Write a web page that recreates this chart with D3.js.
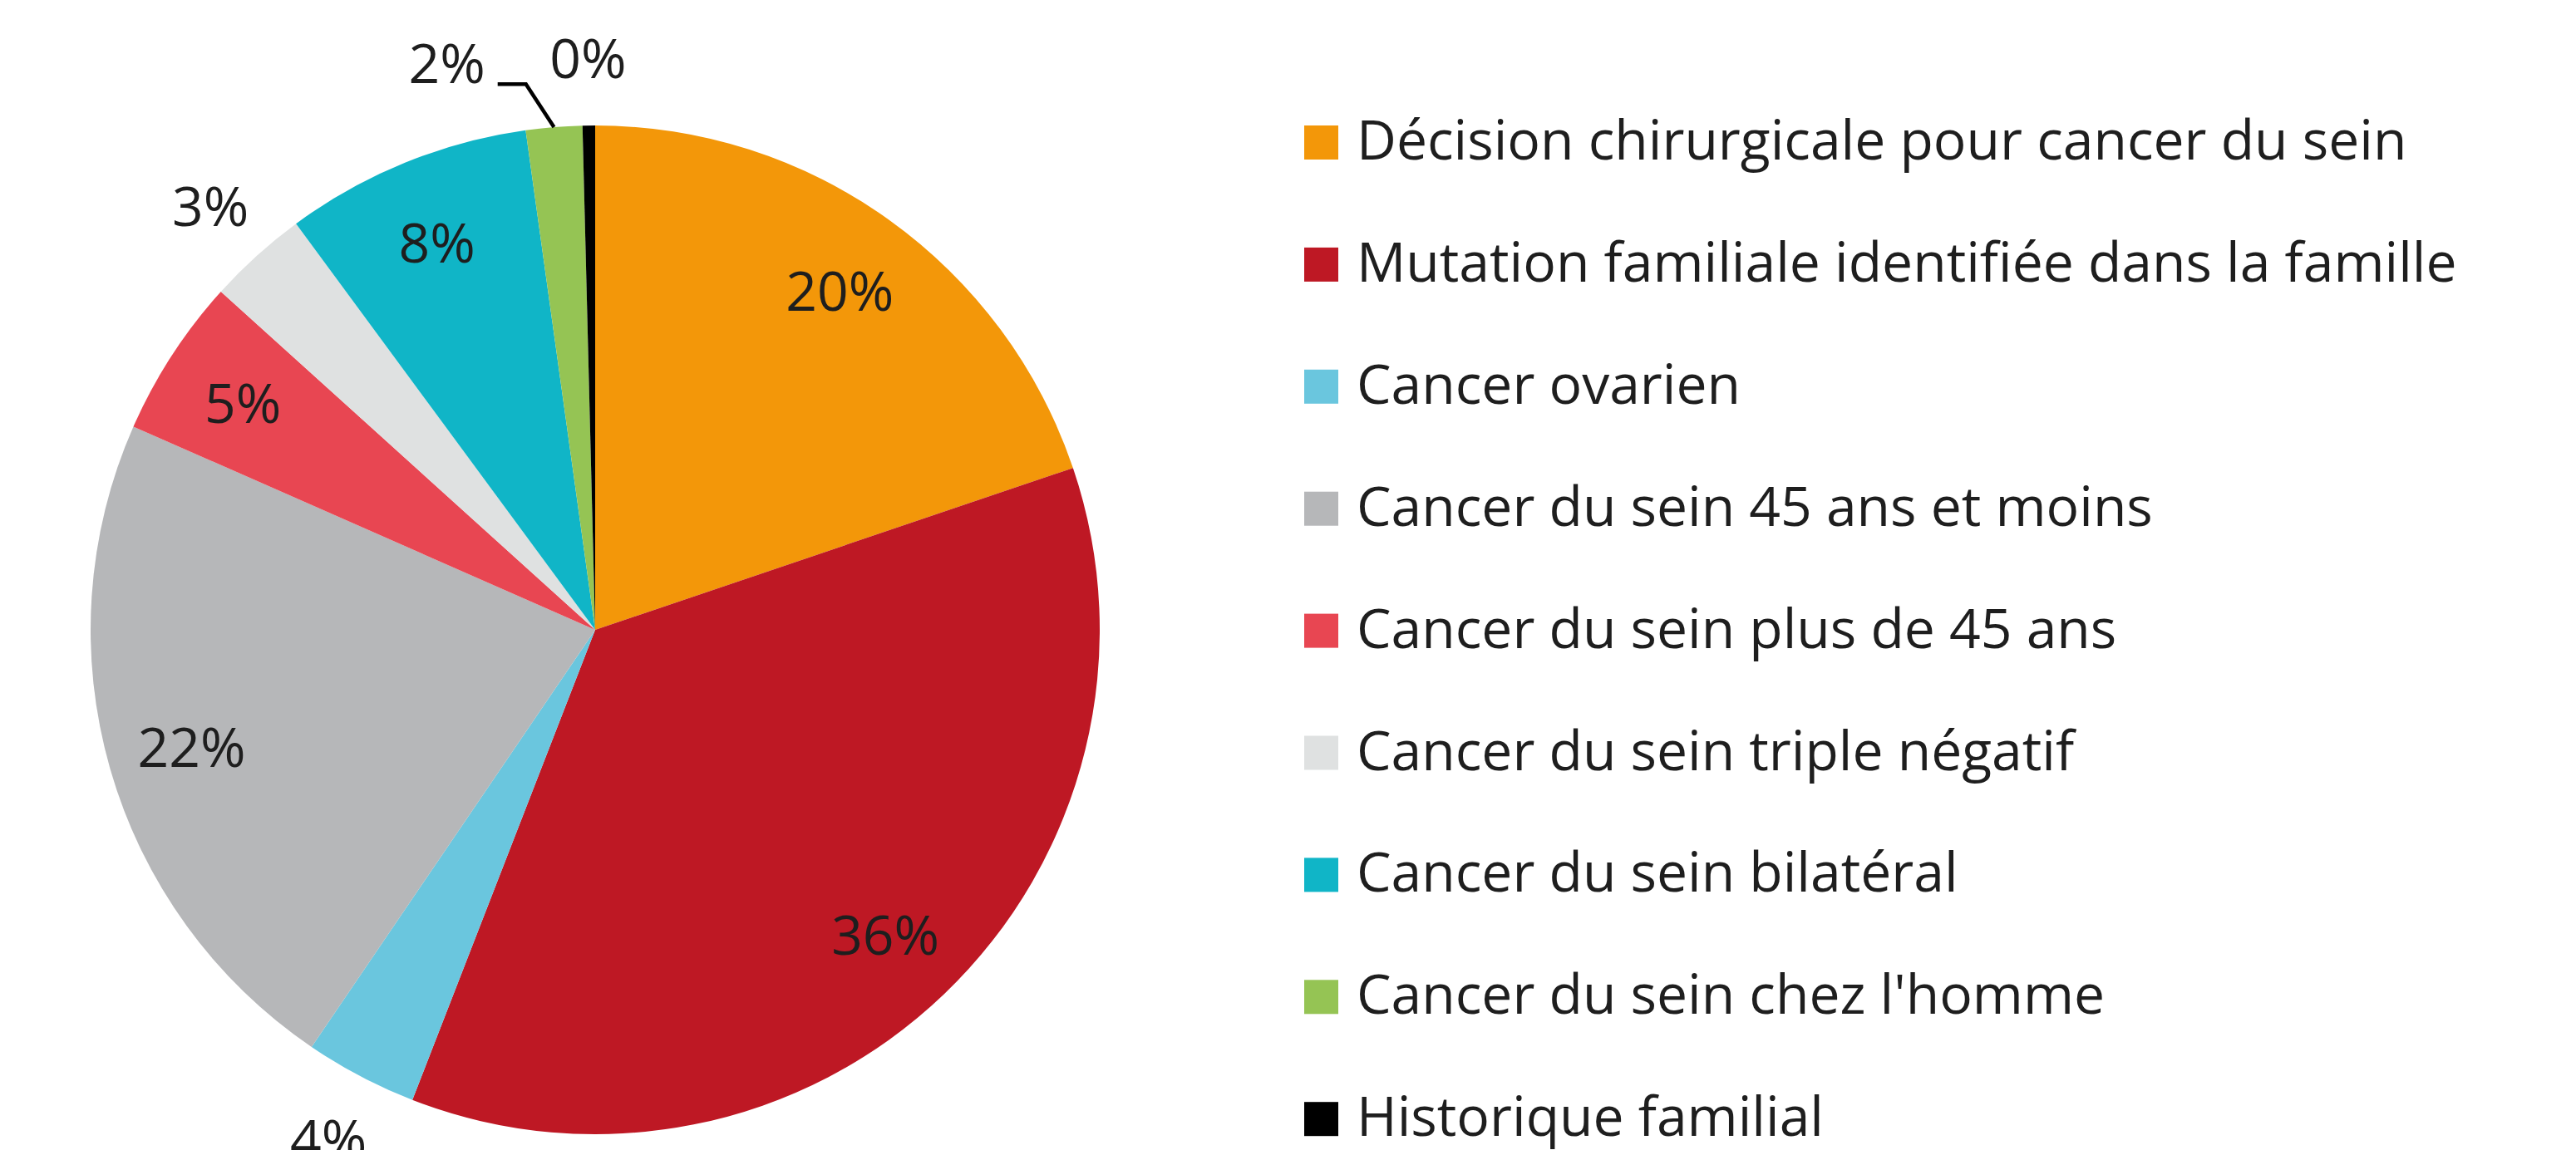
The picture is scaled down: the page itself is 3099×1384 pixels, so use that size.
<!DOCTYPE html>
<html>
<head>
<meta charset="utf-8">
<script src="https://cdn.jsdelivr.net/npm/d3@7"></script>
<style>
  html, body { margin: 0; padding: 0; background: #fff; }
  svg { display: block; }
  .slice-label, .legend-label { font-family: "Open Sans", "Noto Sans", sans-serif; fill: #1e1e1e; }
</style>
</head>
<body>
<svg id="chart"></svg>
<script>
// data (share of each reason, percent)
const categories = [
  "Décision chirurgicale pour cancer du sein",
  "Mutation familiale identifiée dans la famille",
  "Cancer ovarien",
  "Cancer du sein 45 ans et moins",
  "Cancer du sein plus de 45 ans",
  "Cancer du sein triple négatif",
  "Cancer du sein bilatéral",
  "Cancer du sein chez l'homme",
  "Historique familial"
];
const values = [19.8, 36.1, 3.6, 22.1, 5.1, 3.2, 7.9, 1.8, 0.4];
const colors = ["#f39709", "#be1824", "#6ac6de", "#b6b7b9", "#e84652", "#dfe1e1", "#10b5c7", "#95c454", "#000000"];
// which labels sit outside the pie
const outside = [false, false, true, false, false, true, false, true, true];

const W = 3099, H = 1384;
const cx = 716, cy = 758, R = 607;
const rIn = 505, rOut = 690;
const fontSize = 66;

const svg = d3.select('#chart')
    .attr('width', W)
    .attr('height', H);

const pie = d3.pie().sort(null).value(d => d);
const arcs = pie(values);
const arc = d3.arc().innerRadius(0).outerRadius(R);
const inArc = d3.arc().innerRadius(rIn).outerRadius(rIn);
const outArc = d3.arc().innerRadius(rOut).outerRadius(rOut);
const edgeArc = d3.arc().innerRadius(R).outerRadius(R);

const g = svg.append('g')
    .attr('transform', 'translate(' + cx + ',' + cy + ')');

g.selectAll('path.slice')
  .data(arcs)
  .join('path')
    .attr('class', 'slice')
    .attr('fill', (d, i) => colors[i])
    .attr('d', arc);

// the 2% label is pushed to the left with a leader line
const shifted = 7;
const labelShift = {dx: -122, dy: 4};

function labelPos(d, i) {
  const p = outside[i] ? outArc.centroid(d) : inArc.centroid(d);
  if (i === shifted) return [p[0] + labelShift.dx, p[1] + labelShift.dy];
  return p;
}

g.selectAll('text.slice-label')
  .data(arcs)
  .join('text')
    .attr('class', 'slice-label')
    .attr('font-size', fontSize)
    .attr('text-anchor', 'middle')
    .attr('dominant-baseline', 'central')
    .attr('x', (d, i) => labelPos(d, i)[0])
    .attr('y', (d, i) => labelPos(d, i)[1])
    .text(d => Math.round(d.data) + '%');

// leader line for the shifted label
const a = arcs[shifted];
const edge = edgeArc.centroid(a);
const lp = outArc.centroid(a);
const elbow = [lp[0] - 27, lp[1] + 31];
const lineEnd = [elbow[0] - 34, elbow[1]];
g.append('path')
    .attr('fill', 'none')
    .attr('stroke', '#000')
    .attr('stroke-width', 4.5)
    .attr('d', d3.line()([edge, elbow, lineEnd]));

// legend
const legendX = 1569, legendY0 = 192, legendStep = 146.9, box = 41;
const legend = svg.append('g');
const rows = legend.selectAll('g')
  .data(categories)
  .join('g')
    .attr('transform', (d, i) => 'translate(' + legendX + ',' + (legendY0 + i * legendStep) + ')');
rows.append('rect')
    .attr('x', 0)
    .attr('y', -box)
    .attr('width', box)
    .attr('height', box)
    .attr('fill', (d, i) => colors[i]);
rows.append('text')
    .attr('class', 'legend-label')
    .attr('x', 63)
    .attr('y', 0)
    .attr('font-size', fontSize)
    .text(d => d);
</script>
</body>
</html>
